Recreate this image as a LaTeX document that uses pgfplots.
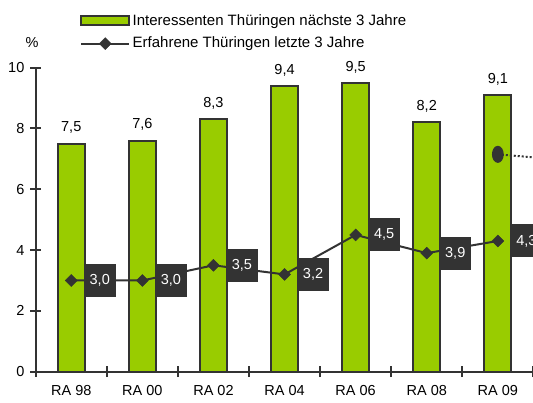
\documentclass[border=0pt]{standalone}
\usepackage{pgfplots}
\pgfplotsset{compat=1.18}
\usepackage{fontspec}
\setmainfont{Liberation Sans}
\definecolor{barg}{HTML}{99CC00}
\definecolor{dk}{HTML}{333333}
\pgfplotsset{
  barlegend/.style={legend image code/.code={\draw[fill=barg, draw=dk, line width=2bp] (0bp,-4.5bp) rectangle (48bp,4.5bp);}},
  linelegend/.style={legend image code/.code={\draw[##1, mark repeat=2, mark phase=2] plot coordinates {(0bp,0bp) (24bp,0bp) (48bp,0bp)};}},
}
\begin{document}
\fontsize{14bp}{16bp}\selectfont
\begin{tikzpicture}
\path[use as bounding box] (0,0) rectangle (533bp,403bp);
\begin{axis}[
  at={(35.7bp,31.3bp)}, anchor=south west,
  scale only axis, width=568.8bp, height=304bp,
  xmin=-0.5, xmax=7.5, ymin=0, ymax=10,
  axis lines=left, axis line style={-, draw=dk, line width=2bp},
  clip=true,
  xtick={0,...,6},
  xticklabels={RA 98, RA 00, RA 02, RA 04, RA 06, RA 08, RA 09},
  minor xtick={-0.5,0.5,...,7.5},
  major x tick style={draw=none},
  minor x tick style={draw=dk, line width=2bp},
  minor tick length=11bp,
  ytick={0,2,...,10},
  y tick style={draw=dk, line width=2bp},
  major tick length=11bp,
  tick align=center,
  ticklabel style={font=\fontsize{14.5bp}{16bp}\selectfont, text=black},
  /pgf/number format/assume math mode=true,
  yticklabel style={xshift=-1bp},
  xticklabel style={yshift=-3bp},
  legend style={at={(axis description cs:0.0779,1.185)}, anchor=north west,
    draw=none, fill=none, inner sep=0pt, row sep=5bp,
    font=\fontsize{15bp}{17bp}\selectfont,
    nodes={inner sep=2.5bp}},
  legend cell align=left,
]
\addplot[ybar, bar width=27.3bp, fill=barg, draw=dk, line width=2bp, barlegend,
  nodes near coords={\pgfmathprintnumber[use comma,fixed,fixed zerofill,precision=1]{\pgfplotspointmeta}},
  every node near coord/.append style={anchor=center, yshift=16bp, text=black, font=\fontsize{14.5bp}{16bp}\selectfont},
  point meta=y]
  coordinates {(0,7.5) (1,7.6) (2,8.3) (3,9.4) (4,9.5) (5,8.2) (6,9.1)};
\addlegendentry{Interessenten Thüringen nächste 3 Jahre}
\addplot[dk, line width=2bp, mark=square*, mark size=4.2bp, linelegend,
  mark options={rotate=45, fill=dk, solid, line width=0.5bp},
  nodes near coords={\pgfmathprintnumber[use comma,fixed,fixed zerofill,precision=1]{\pgfplotspointmeta}},
  every node near coord/.append style={anchor=center, xshift=28.5bp, fill=dk, text=white,
    minimum width=32bp, minimum height=33bp, inner sep=0pt, font=\fontsize{14.5bp}{16bp}\selectfont},
  point meta=y]
  coordinates {(0,3.0) (1,3.0) (2,3.5) (3,3.2) (4,4.5) (5,3.9) (6,4.3)};
\addlegendentry{Erfahrene Thüringen letzte 3 Jahre}
\addplot[dk, line width=2bp, dotted, mark=*, mark size=7.5bp,
  mark options={solid, xscale=0.65, fill=dk}, mark indices={1}, forget plot]
  coordinates {(6,7.15) (7.0,6.95)};
\end{axis}
\node at (32bp,360bp) {\fontsize{14.5bp}{16bp}\selectfont\%};
\end{tikzpicture}
\end{document}
